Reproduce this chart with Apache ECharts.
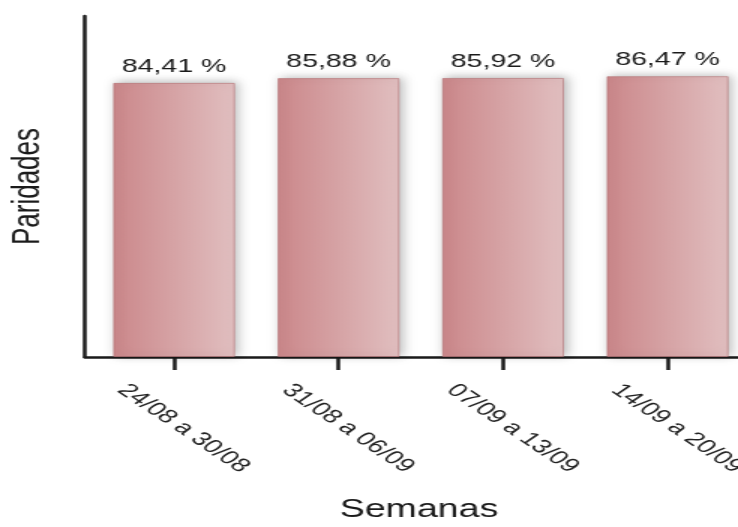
<!DOCTYPE html>
<html>
<head>
<meta charset="utf-8">
<script src="https://cdn.jsdelivr.net/npm/echarts@6/dist/echarts.min.js"></script>
<style>
  html, body { margin: 0; padding: 0; background: #ffffff; overflow: hidden; }
  #wrap { width: 738px; height: 527px; overflow: hidden; position: relative; }
  #c { width: 492px; height: 527px; transform: scaleX(1.5); transform-origin: 0 0; }
</style>
</head>
<body>
<div id="wrap"><div id="c"></div></div>
<script>
const categories = ['24/08 a 30/08', '31/08 a 06/09', '07/09 a 13/09', '14/09 a 20/09'];
const paridades = [84.41, 85.88, 85.92, 86.47];
const yAxisTitle = 'Paridades';
const xAxisTitle = 'Semanas';

const chart = echarts.init(document.getElementById('c'));
const font = 'Liberation Sans, Arial, sans-serif';
const gridTop = 16, gridBottom = 170;

chart.setOption({
  animation: false,
  backgroundColor: '#ffffff',
  grid: [
    { left: 56.7, right: 0, top: gridTop, bottom: gridBottom, outerBoundsMode: 'none', containLabel: false },
    { left: 61.2, right: -7.9, top: gridTop, bottom: gridBottom, outerBoundsMode: 'none', containLabel: false }
  ],
  xAxis: [
    {
      gridIndex: 0, type: 'category', data: [''],
      axisLine: { show: true, lineStyle: { color: '#1a1a1a', width: 2.5 } },
      axisTick: { show: false }, axisLabel: { show: false },
      name: xAxisTitle, nameLocation: 'middle', nameGap: 141,
      nameTextStyle: { fontFamily: font, fontSize: 25, color: '#1a1a1a', padding: [0, 0, 0, 10] }
    },
    {
      gridIndex: 1, type: 'category', data: categories,
      axisLine: { show: false },
      axisTick: { show: true, alignWithLabel: true, length: 13, lineStyle: { color: '#1a1a1a', width: 2.5 } },
      axisLabel: {
        show: true, interval: 0, rotate: -45, align: 'center', verticalAlign: 'middle',
        padding: [0, 0, 0, 18],
        margin: 65, fontFamily: font, fontSize: 19, color: '#222222'
      }
    }
  ],
  yAxis: [
    {
      gridIndex: 0, type: 'value', min: 0, max: 105,
      axisLine: { show: true, lineStyle: { color: '#1a1a1a', width: 2.5 } },
      axisTick: { show: false }, axisLabel: { show: false }, splitLine: { show: false },
      name: yAxisTitle, nameLocation: 'middle', nameGap: 25,
      nameTextStyle: { fontFamily: font, fontSize: 26, color: '#1a1a1a' }
    },
    {
      gridIndex: 1, type: 'value', min: 0, max: 105, show: false, splitLine: { show: false }
    }
  ],
  series: [{
    type: 'bar',
    xAxisIndex: 1, yAxisIndex: 1,
    data: paridades,
    barWidth: 81.3,
    itemStyle: {
      color: new echarts.graphic.LinearGradient(0, 0, 1, 0, [
        { offset: 0, color: '#cb878a' },
        { offset: 1, color: '#e1bfc0' }
      ]),
      borderColor: 'rgba(176, 104, 108, 0.55)',
      borderWidth: 1,
      shadowColor: 'rgba(0, 0, 0, 0.28)',
      shadowBlur: 8,
      shadowOffsetX: 2,
      shadowOffsetY: -1
    },
    label: {
      show: true, position: 'top', distance: 7,
      fontFamily: font, fontSize: 19, color: '#1a1a1a',
      formatter: p => p.value.toFixed(2).replace('.', ',') + ' %'
    }
  }]
});
</script>
</body>
</html>
